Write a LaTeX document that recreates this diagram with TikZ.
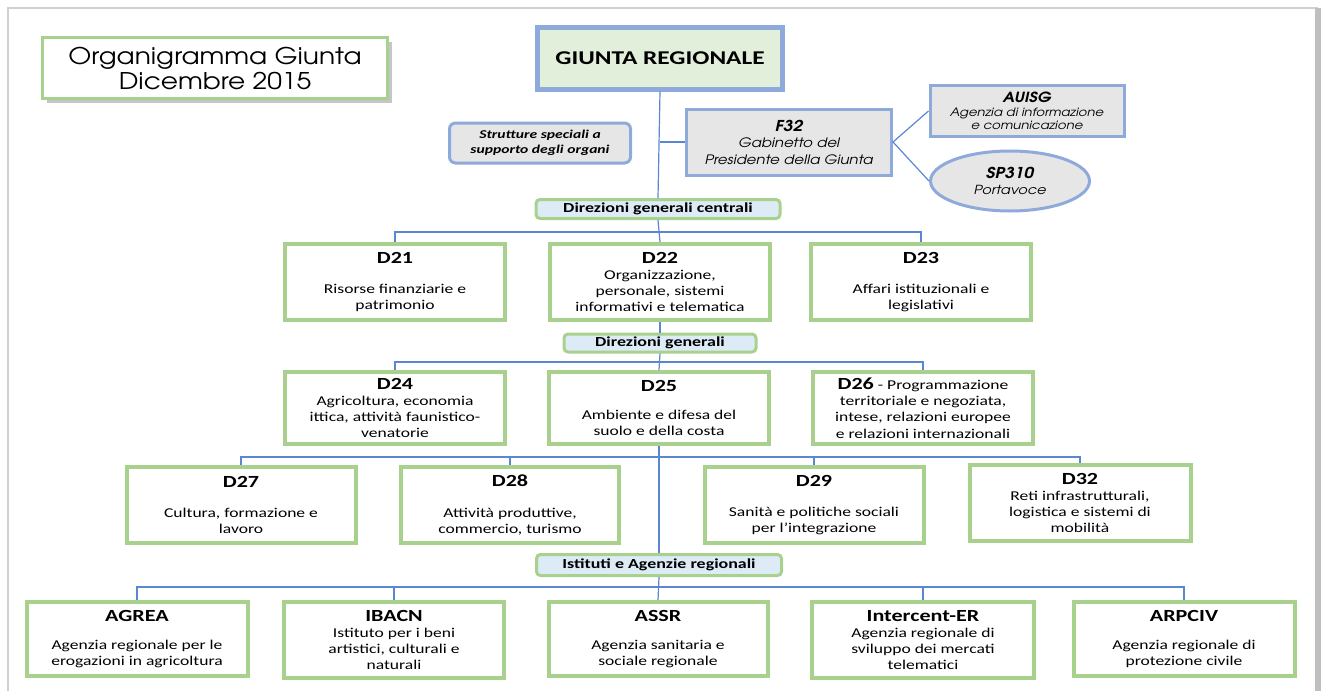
\documentclass[tikz,border=0pt]{standalone}
\usepackage{fontspec}
\setmainfont{Carlito}[FakeStretch=1.3]
\newfontfamily\advfont{texgyreadventor}[Extension=.otf,UprightFont=*-regular,ItalicFont=*-italic,BoldFont=*-bold,BoldItalicFont=*-bolditalic,FakeStretch=1.15]
\usepackage{tikz}
\usetikzlibrary{shapes.geometric,shadows}

\definecolor{boxgreen}{HTML}{A9D18E}
\definecolor{groupblue}{HTML}{DDEBF7}
\definecolor{headgreen}{HTML}{E2EFDA}
\definecolor{headblue}{HTML}{8EAADB}
\definecolor{staffgray}{HTML}{E7E6E6}
\definecolor{linkblue}{HTML}{5B87D0}
\definecolor{framegray}{HTML}{D0D0D0}

\tikzset{
  unitbox/.style={draw=boxgreen, line width=4pt, fill=white, inner sep=0pt, align=center,
    minimum width=220pt, minimum height=76pt, font=\fontsize{13.5}{16.3}\selectfont},
  groupbar/.style={draw=boxgreen, line width=3pt, fill=groupblue, rounded corners=4pt,
    inner sep=0pt, font=\fontsize{13.8}{15}\selectfont\bfseries},
  staffbox/.style={draw=headblue, line width=3pt, fill=staffgray, inner sep=0pt, align=center},
  link/.style={draw=linkblue, line width=1.2pt},
}
\newcommand{\unitname}[1]{{\fontsize{17}{19}\selectfont\bfseries #1}}

\begin{document}
\begin{tikzpicture}[x=1pt,y=-1pt]
\useasboundingbox (0,0) rectangle (1328,691);
% page frame
\draw[framegray, line width=1.5pt] (8,691) -- (8,8) -- (1318,8);
\fill[black!25] (1315,8) rectangle (1321,691);

% heading
\node (title) at (215,68) [draw=boxgreen, line width=3pt, fill=white, minimum width=345pt, minimum height=61pt,
  align=center, inner sep=0pt, drop shadow={shadow xshift=4pt, shadow yshift=-4pt, opacity=0.45},
  font=\advfont\fontsize{23}{25}\selectfont] {Organigramma Giunta\\Dicembre 2015};
\node (giunta) at (660,58) [draw=headblue, line width=5pt, fill=headgreen, minimum width=245pt, minimum height=62pt,
  inner sep=0pt, font=\fontsize{19.5}{22}\selectfont\bfseries] {GIUNTA REGIONALE};

% staff of the president
\node (strutture) at (540,143) [staffbox, rounded corners=6pt, minimum width=181pt, minimum height=40pt,
  font=\fontsize{12}{15.5}\selectfont\bfseries\itshape] {Strutture speciali a\\supporto degli organi};
\node (f32) at (789,142) [staffbox, minimum width=205pt, minimum height=66pt,
  font=\advfont\fontsize{13}{16.5}\selectfont\itshape] {{\bfseries\fontsize{15}{17}\selectfont F32}\\Gabinetto del\\Presidente della Giunta};
\node (auisg) at (1027,111) [staffbox, minimum width=194pt, minimum height=51pt,
  font=\advfont\fontsize{11.5}{13.5}\selectfont\itshape] {{\bfseries\fontsize{14}{16}\selectfont AUISG}\\Agenzia di informazione\\e comunicazione};
\node (sp310) at (1010,181) [ellipse, staffbox, minimum width=159pt, minimum height=60pt,
  font=\advfont\fontsize{12.5}{16}\selectfont\itshape] {{\bfseries\fontsize{15}{17}\selectfont SP310}\\Portavoce};

% central directorates
\node (dgc) at (658,209) [groupbar, minimum width=244pt, minimum height=19pt] {Direzioni generali centrali};
\node (d21) at (395,282) [unitbox] {\unitname{D21}\\[14pt]Risorse finanziarie e\\patrimonio};
\node (d22) at (660,282) [unitbox] {\unitname{D22}\\Organizzazione,\\personale, sistemi\\informativi e telematica};
\node (d23) at (921,282) [unitbox] {\unitname{D23}\\[14pt]Affari istituzionali e\\legislativi};

% general directorates
\node (dg) at (660,343) [groupbar, minimum width=192pt, minimum height=18pt] {Direzioni generali};
\node (d24) at (395,408) [unitbox, minimum height=72pt] {\unitname{D24}\\Agricoltura, economia\\ittica, attività faunistico-\\venatorie};
\node (d25) at (659,408) [unitbox, minimum height=72pt] {\unitname{D25}\\[12pt]Ambiente e difesa del\\suolo e della costa};
\node (d26) at (923,408) [unitbox, minimum height=72pt] {\unitname{D26} - Programmazione\\territoriale e negoziata,\\intese, relazioni europee\\e relazioni internazionali};
\node (d27) at (241,505) [unitbox, minimum width=229pt] {\unitname{D27}\\[14pt]Cultura, formazione e\\lavoro};
\node (d28) at (510,505) [unitbox, minimum width=218pt] {\unitname{D28}\\[14pt]Attività produttive,\\commercio, turismo};
\node (d29) at (814,505) [unitbox, minimum width=219pt] {\unitname{D29}\\[14pt]Sanità e politiche sociali\\per l’integrazione};
\node (d32) at (1080,503) [unitbox, minimum width=221pt] {\unitname{D32}\\Reti infrastrutturali,\\logistica e sistemi di\\mobilità};

% institutes and agencies
\node (ist) at (659,565) [groupbar, minimum width=245pt, minimum height=21pt] {Istituti e Agenzie regionali};
\node (agrea) at (137,639) [unitbox, minimum width=221pt, minimum height=74pt] {\unitname{AGREA}\\[12pt]Agenzia regionale per le\\erogazioni in agricoltura};
\node (ibacn) at (394,640) [unitbox, minimum width=220pt, minimum height=76pt] {\unitname{IBACN}\\Istituto per i beni\\artistici, culturali e\\naturali};
\node (assr) at (658,639) [unitbox, minimum width=219pt, minimum height=74pt] {\unitname{ASSR}\\[12pt]Agenzia sanitaria e\\sociale regionale};
\node (intercent) at (923,640) [unitbox, minimum width=222pt, minimum height=76pt] {\unitname{Intercent-ER}\\Agenzia regionale di\\sviluppo dei mercati\\telematici};
\node (arpciv) at (1184,639) [unitbox, minimum width=221pt, minimum height=74pt] {\unitname{ARPCIV}\\[12pt]Agenzia regionale di\\protezione civile};

% connectors
\coordinate (bus1) at (660,232);
\coordinate (bus2) at (660,362);
\coordinate (bus3) at (660,457);
\coordinate (bus4) at (660,587);
\draw[link] (giunta.south) -- (dgc.north);
\draw[link] (f32.west) -- (f32.west -| giunta.south);
\draw[link] (auisg.west) -- (f32.east) -- (sp310.west);
\draw[link] (dgc.south) -- (d22.north);
\draw[link] (d21.north) |- (bus1) -| (d23.north);
\draw[link] (d22.south) -- (dg.north);
\draw[link] (dg.south) -- (d25.north);
\draw[link] (d24.north) |- (bus2) -| (d26.north);
\draw[link] (d25.south) -- (ist.north);
\draw[link] (d27.north) |- (bus3) -| (d32.north);
\draw[link] (d28.north) |- (bus3) -| (d29.north);
\draw[link] (ist.south) -- (assr.north);
\draw[link] (agrea.north) |- (bus4) -| (arpciv.north);
\draw[link] (ibacn.north) |- (bus4) -| (intercent.north);
\end{tikzpicture}
\end{document}
